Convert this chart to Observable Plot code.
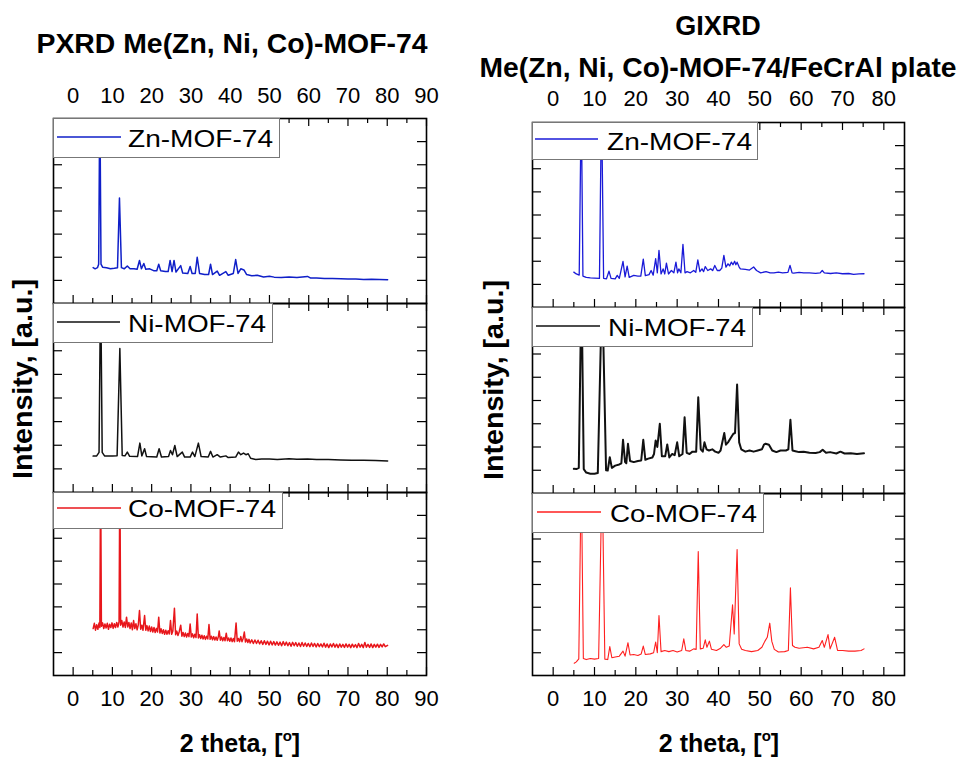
<!DOCTYPE html>
<html><head><meta charset="utf-8">
<script src="https://cdn.jsdelivr.net/npm/d3@7"></script>
<script src="https://cdn.jsdelivr.net/npm/@observablehq/plot@0.6"></script>
<style>
body{margin:0;background:#fff;}
#wrap{position:relative;width:960px;height:759px;overflow:hidden;background:#fff;}
#wrap .panel{position:absolute;}
#overlay{position:absolute;left:0;top:0;pointer-events:none;}
</style></head><body><div id="wrap"></div>
<script>
const FONT = '"Liberation Sans", Arial, Helvetica, sans-serif';

// ---- labels & ticks ----
const seriesNames = ["Zn-MOF-74", "Ni-MOF-74", "Co-MOF-74"];
const leftTitle = "PXRD Me(Zn, Ni, Co)-MOF-74";
const rightTitle = ["GIXRD", "Me(Zn, Ni, Co)-MOF-74/FeCrAl plate"];
const yLabel = "Intensity, [a.u.]";
const xLabel = "2 theta, [";
const leftXTickLabels = [0, 10, 20, 30, 40, 50, 60, 70, 80, 90];
const leftXMinorTicks = [5, 15, 25, 35, 45, 55, 65, 75, 85];
const rightXTickLabels = [0, 10, 20, 30, 40, 50, 60, 70, 80];
const rightXMinorTicks = [5, 15, 25, 35, 45, 55, 65, 75];
const yTicks = [1, 2, 3, 4, 5, 6, 7];

// ---- series: [2theta, intensity (a.u.)] ----
const pxrdZn = [[5.1,1.55],[5.6,1.50],[6.2,1.55],[6.5,1.7],[6.8,9],[7.1,1.7],[7.5,1.57],[8.5,1.55],[9.5,1.5],[10.5,1.52],[11.3,1.55],[11.8,4.56],[12.3,1.55],[13,1.5],[13.8,1.62],[14.5,1.5],[15.5,1.5],[16.3,1.48],[16.9,1.86],[17.4,1.5],[18.0,1.73],[18.5,1.48],[19.5,1.5],[20.5,1.42],[21.3,1.42],[21.8,1.70],[22.3,1.42],[23.5,1.38],[24.2,1.38],[24.7,1.86],[25.2,1.38],[25.7,1.86],[26.2,1.36],[27.4,1.64],[27.9,1.32],[29.2,1.3],[29.8,1.6],[30.3,1.3],[31.1,1.3],[31.6,2.0],[32.2,1.3],[33.5,1.25],[34.5,1.25],[35.0,1.70],[35.5,1.25],[36.7,1.4],[37.3,1.22],[38.9,1.38],[39.5,1.22],[40.8,1.3],[41.4,1.9],[42,1.3],[42.7,1.5],[43.5,1.45],[44.2,1.25],[45.5,1.2],[46.9,1.22],[48.5,1.15],[50,1.18],[51.2,1.14],[53,1.12],[55,1.15],[57,1.12],[59.7,1.17],[60.5,1.1],[62,1.1],[64,1.08],[66,1.08],[68.2,1.07],[70,1.06],[72,1.06],[74,1.04],[76,1.05],[78,1.04],[80.1,1.03]];

const pxrdNi = [[5.1,1.54],[6.0,1.55],[6.6,1.7],[7.0,9],[7.4,1.7],[8,1.55],[9,1.54],[10,1.54],[11.2,1.56],[11.9,6.09],[12.5,1.57],[13.2,1.55],[13.8,1.71],[14.4,1.53],[16.4,1.52],[17.0,2.09],[17.5,1.55],[18.2,1.85],[18.7,1.52],[21.3,1.5],[21.9,1.85],[22.5,1.5],[24.3,1.52],[24.8,1.78],[25.3,1.6],[25.9,1.99],[26.5,1.52],[27.8,1.71],[28.4,1.5],[29.8,1.5],[30.4,1.71],[31.0,1.52],[31.9,2.09],[32.6,1.52],[34.4,1.5],[35.0,1.74],[35.6,1.5],[36.7,1.6],[37.5,1.5],[38.9,1.55],[39.5,1.48],[41.4,1.5],[42.1,1.71],[42.7,1.6],[43.4,1.67],[44,1.6],[44.6,1.64],[45.2,1.45],[46.5,1.4],[48,1.42],[50,1.42],[52,1.4],[55,1.43],[57,1.41],[59.7,1.42],[62,1.4],[65,1.4],[68.2,1.38],[71,1.37],[74,1.36],[77,1.35],[80.1,1.33]];

const pxrdCo = [[5.1,2.05],[5.4,2.28],[5.7,1.98],[6.0,2.22],[6.3,2.02],[6.6,2.3],[6.8,2.1],[7.0,9],[7.2,2.15],[7.5,2.3],[7.8,2.05],[8.1,2.25],[8.4,2.08],[8.7,2.28],[9.0,2.02],[9.3,2.24],[9.6,2.1],[9.9,2.3],[10.2,2.06],[10.5,2.26],[10.8,2.1],[11.1,2.32],[11.4,2.12],[11.7,2.35],[11.9,9],[12.1,2.2],[12.4,2.4],[12.7,2.12],[13.0,2.34],[13.3,2.1],[13.6,2.55],[13.9,2.12],[14.2,2.32],[14.5,2.05],[14.8,2.3],[15.1,2.0],[15.4,2.4],[15.7,2.05],[16.0,2.26],[16.3,2.0],[16.6,2.22],[16.9,2.84],[17.2,2.02],[17.5,2.2],[17.8,1.98],[18.2,2.62],[18.5,1.98],[18.8,2.18],[19.1,1.95],[19.4,2.16],[19.7,1.92],[20.0,2.12],[20.3,1.9],[20.6,2.1],[20.9,1.88],[21.2,2.06],[21.5,1.9],[21.8,2.55],[22.1,1.86],[22.4,2.04],[22.7,1.84],[23.0,2.0],[23.3,1.8],[23.6,1.98],[23.9,1.8],[24.2,1.96],[24.5,1.82],[24.8,2.4],[25.1,1.8],[25.4,1.95],[25.8,2.94],[26.1,1.78],[26.4,1.94],[26.7,1.75],[27.0,1.9],[27.4,2.2],[27.7,1.72],[28.0,1.88],[28.3,1.7],[28.6,1.86],[28.9,1.68],[29.2,1.84],[29.5,1.7],[29.8,2.25],[30.1,1.68],[30.4,1.82],[30.7,1.65],[31.0,1.8],[31.3,1.66],[31.6,2.69],[31.9,1.64],[32.2,1.78],[32.5,1.62],[32.8,1.76],[33.1,1.6],[33.4,1.74],[33.7,1.58],[34.0,1.72],[34.3,1.6],[34.6,2.23],[34.9,1.58],[35.2,1.72],[35.5,1.56],[35.8,1.7],[36.1,1.55],[36.4,1.68],[36.7,1.54],[37.0,1.7],[37.2,1.95],[37.5,1.54],[37.8,1.68],[38.1,1.52],[38.4,1.66],[38.7,1.52],[39.0,1.85],[39.3,1.52],[39.6,1.64],[39.9,1.5],[40.2,1.64],[40.5,1.48],[40.8,1.62],[41.1,1.48],[41.5,2.29],[41.8,1.5],[42.1,1.62],[42.4,1.48],[42.7,1.7],[43.0,1.48],[43.3,1.62],[43.6,1.9],[43.9,1.46],[44.2,1.6],[44.5,1.44],[44.8,1.58],[45.1,1.42],[45.5,1.56],[45.9,1.4],[46.3,1.55],[46.7,1.4],[47.1,1.54],[47.5,1.38],[47.9,1.52],[48.3,1.36],[48.7,1.52],[49.1,1.36],[49.5,1.5],[49.9,1.34],[50.3,1.5],[50.7,1.34],[51.1,1.48],[51.5,1.33],[51.9,1.47],[52.3,1.32],[52.7,1.46],[53.1,1.3],[53.5,1.48],[53.9,1.32],[54.3,1.46],[54.7,1.3],[55.1,1.44],[55.5,1.28],[55.9,1.45],[56.3,1.3],[56.7,1.44],[57.1,1.28],[57.5,1.42],[57.9,1.27],[58.3,1.44],[58.7,1.28],[59.1,1.42],[59.5,1.27],[59.9,1.4],[60.3,1.26],[60.7,1.42],[61.1,1.27],[61.5,1.4],[61.9,1.25],[62.3,1.4],[62.7,1.26],[63.1,1.38],[63.5,1.25],[63.9,1.41],[64.3,1.24],[64.7,1.38],[65.1,1.22],[65.5,1.38],[65.9,1.25],[66.3,1.4],[66.7,1.24],[67.1,1.37],[67.5,1.22],[67.9,1.38],[68.3,1.24],[68.7,1.36],[69.1,1.23],[69.5,1.38],[69.9,1.24],[70.3,1.36],[70.7,1.22],[71.1,1.37],[71.5,1.24],[71.9,1.35],[72.3,1.22],[72.7,1.4],[73.1,1.24],[73.5,1.36],[73.9,1.22],[74.3,1.44],[74.7,1.24],[75.1,1.36],[75.5,1.23],[75.9,1.38],[76.3,1.22],[76.7,1.36],[77.1,1.24],[77.5,1.37],[77.9,1.23],[78.3,1.36],[78.7,1.25],[79.1,1.38],[79.5,1.26],[80.1,1.32]];

const gixrdZn = [[5.0,1.53],[5.6,1.45],[6.3,1.4],[6.8,9],[7.2,1.36],[8,1.3],[9,1.28],[10,1.27],[11.2,1.26],[11.7,9],[12.2,1.26],[12.9,1.24],[13.5,1.57],[14,1.26],[15.0,1.24],[15.5,1.39],[16.0,1.26],[16.9,1.99],[17.4,1.32],[17.9,1.79],[18.4,1.3],[19.5,1.39],[20.5,1.36],[21.2,1.36],[21.8,2.09],[22.3,1.38],[23.2,1.42],[23.7,1.6],[24.2,1.4],[24.8,2.11],[25.2,1.5],[25.6,2.47],[26.1,1.45],[26.6,1.67],[27.0,1.45],[27.4,1.92],[27.9,1.45],[28.6,1.6],[29.2,1.5],[29.7,1.96],[30.1,1.5],[30.4,1.67],[30.9,1.5],[31.4,2.73],[31.9,1.5],[32.4,1.55],[33.2,1.5],[34.0,1.6],[34.5,1.52],[35.0,2.06],[35.5,1.55],[36.0,1.67],[36.4,1.55],[36.8,1.77],[37.4,1.6],[38.1,1.67],[38.6,1.6],[39.1,1.82],[39.7,1.6],[40.3,1.6],[40.8,1.7],[41.3,2.25],[41.8,1.75],[42.3,1.89],[42.7,1.8],[43.1,1.96],[43.5,1.85],[43.9,2.0],[44.2,1.85],[44.5,1.96],[45.0,1.75],[45.3,1.67],[46.5,1.65],[47.5,1.62],[48.5,1.75],[49.2,1.6],[50.2,1.5],[51.5,1.55],[52.5,1.5],[53.4,1.5],[54.5,1.53],[55.5,1.5],[56.8,1.52],[57.3,1.82],[57.8,1.5],[58.2,1.49],[59.5,1.52],[60.6,1.5],[62,1.5],[63.5,1.48],[64.6,1.5],[65.1,1.6],[65.6,1.5],[67.1,1.47],[68.5,1.5],[70,1.46],[71.5,1.47],[72.7,1.43],[74,1.45],[75.2,1.46]];

const gixrdNi = [[5.0,1.06],[5.6,1.05],[6.2,1.1],[6.85,9],[7.4,1.05],[8,0.9],[9,0.85],[10,0.85],[10.8,0.88],[11.85,9],[12.8,1.0],[13.2,0.99],[13.7,1.56],[14.2,1.1],[15,1.2],[16.0,1.25],[16.5,1.3],[16.9,2.31],[17.4,1.35],[17.7,1.3],[18.1,2.14],[18.6,1.4],[19.5,1.35],[20.5,1.4],[21.3,1.42],[21.8,2.31],[22.3,1.45],[23.0,1.5],[24.0,1.55],[24.4,1.7],[24.8,2.28],[25.2,2.0],[25.8,3.0],[26.3,1.6],[27.1,1.6],[27.6,2.11],[28.1,1.55],[28.8,1.7],[29.4,1.65],[30.0,2.2],[30.5,1.6],[31.3,1.7],[31.8,3.28],[32.3,1.75],[33.0,1.7],[33.7,1.8],[34.6,1.8],[35.1,4.14],[35.7,1.9],[36.2,1.8],[36.6,2.2],[37.1,1.9],[37.7,1.85],[38.5,1.9],[39.2,1.8],[40.0,1.75],[40.5,1.85],[41.4,2.6],[41.8,2.1],[42.3,2.2],[43.1,2.43],[43.6,2.57],[44.0,2.6],[44.5,4.69],[45.0,2.2],[45.5,1.9],[46.5,1.8],[47.5,1.85],[48.5,1.8],[49.5,1.85],[50.5,1.9],[51.0,2.1],[51.4,2.14],[52.2,2.1],[53.0,1.85],[54.0,1.78],[55.0,1.85],[56.3,1.85],[56.9,1.9],[57.4,3.17],[57.9,1.85],[58.6,1.82],[59.5,1.78],[60.6,1.8],[62.0,1.75],[63.5,1.74],[64.5,1.78],[65.2,1.88],[66,1.75],[67,1.78],[68.5,1.72],[69.5,1.8],[70.5,1.72],[72,1.73],[73.5,1.7],[75.2,1.73]];

const gixrdCo = [[5.1,0.54],[5.6,0.6],[6.2,0.73],[6.8,9],[7.3,0.75],[8,0.7],[9,0.75],[10,0.72],[11.0,0.75],[11.85,9],[12.5,0.72],[13.2,0.7],[13.7,1.27],[14.2,0.78],[15,0.81],[16,0.85],[16.9,1.07],[17.4,0.85],[18.1,1.44],[18.6,0.9],[19.5,0.92],[20.5,0.88],[21.3,0.95],[21.8,1.29],[22.3,0.92],[23.5,0.95],[24.3,1.0],[24.8,1.47],[25.2,1.0],[25.6,2.64],[26.1,1.05],[27.0,1.1],[28.0,1.05],[29.0,1.1],[30.0,1.03],[31.1,1.1],[31.6,1.61],[32.1,1.1],[33.0,1.07],[34.0,1.17],[34.6,1.15],[35.1,5.45],[35.6,1.17],[36.3,1.2],[36.8,1.57],[37.2,1.24],[37.8,1.51],[38.3,1.15],[39.5,1.1],[40.5,1.2],[41.3,1.36],[41.9,1.24],[42.6,1.3],[43.4,3.11],[43.8,1.83],[44.5,5.54],[45.0,1.39],[45.6,1.15],[46.5,1.1],[48,1.05],[49.5,1.1],[50.5,1.24],[51.2,1.5],[51.8,1.68],[52.4,2.3],[52.9,1.5],[53.5,1.15],[54.5,1.03],[56.0,1.05],[56.9,1.1],[57.4,3.85],[57.9,1.32],[58.5,1.24],[59.5,1.2],[61.5,1.24],[63,1.17],[64.3,1.24],[65.1,1.54],[65.6,1.24],[66.5,1.8],[67.0,1.17],[68.1,1.68],[68.8,1.1],[70,1.1],[71.5,1.07],[73,1.07],[74.5,1.1],[75.2,1.17]];

const toRows = pairs => pairs.map(([x, y]) => ({x, y}));

const columns = [
  {left: 53, width: 373, xDomain: [-5, 90], major: leftXTickLabels, minor: leftXMinorTicks, topPad: 16,
   rows: [
     {top: 118, bottom: 303, data: pxrdZn, color: "#0f1fc8", sw: 1.5, name: seriesNames[0],
      box: [53, 118, 279, 157], sample: [57, 121, 137], text: [128, 146.5, 145]},
     {top: 303, bottom: 492, data: pxrdNi, color: "#111111", sw: 1.5, name: seriesNames[1],
      box: [53, 303, 272, 342], sample: [57, 120, 322], text: [128, 331.5, 138]},
     {top: 492, bottom: 675, data: pxrdCo, color: "#e8161b", sw: 1.5, name: seriesNames[2],
      box: [53, 492, 282, 528], sample: [57, 121, 508], text: [128, 516.5, 148]}
   ]},
  {left: 532, width: 372, xDomain: [-5, 85], major: rightXTickLabels, minor: rightXMinorTicks, topPad: 17,
   rows: [
     {top: 122, bottom: 307, data: gixrdZn, color: "#1a1ad8", sw: 1.3, name: seriesNames[0],
      box: [532, 122, 757, 159], sample: [535, 598, 139], text: [607, 149.5, 145]},
     {top: 307, bottom: 493, data: gixrdNi, color: "#111111", sw: 2.0, name: seriesNames[1],
      box: [532, 307, 752, 346], sample: [536, 600, 326], text: [608, 335.5, 138]},
     {top: 493, bottom: 675, data: gixrdCo, color: "#ff1f1f", sw: 1.1, name: seriesNames[2],
      box: [532, 493, 763, 532], sample: [537, 601, 512], text: [610, 521.5, 147]}
   ]}
];

const wrap = document.getElementById("wrap");

columns.forEach(col => {
  const W = col.width;
  col.rows.forEach((row, i) => {
    const H = row.bottom - row.top;
    const isTop = i === 0, isBottom = i === col.rows.length - 1;
    const mt = isTop ? 36 : 2, mb = isBottom ? 40 : 2;
    const chart = Plot.plot({
      width: W + 4, height: H + mt + mb,
      marginLeft: 2, marginRight: 2, marginTop: mt, marginBottom: mb,
      x: {domain: col.xDomain, axis: null},
      y: {domain: [0, 8], axis: null},
      style: {fontFamily: FONT, overflow: "visible", background: "transparent", color: "#000"},
      marks: [
        Plot.line(toRows(row.data), {x: "x", y: "y", stroke: row.color, strokeWidth: row.sw, strokeLinejoin: "round", clip: true}),
        Plot.tickX(col.major, {x: d => d, insetTop: H - 8, stroke: "#000", strokeWidth: 1.2}),
        Plot.tickX(col.major, {x: d => d, insetBottom: H - 8, stroke: "#000", strokeWidth: 1.2}),
        Plot.tickX(col.minor, {x: d => d, insetTop: H - 5, stroke: "#000", strokeWidth: 1.2}),
        Plot.tickX(col.minor, {x: d => d, insetBottom: H - 5, stroke: "#000", strokeWidth: 1.2}),
        Plot.tickY(yTicks, {y: d => d, insetRight: W - 9, stroke: "#000", strokeWidth: 1.2}),
        Plot.tickY(yTicks, {y: d => d, insetLeft: W - 9, stroke: "#000", strokeWidth: 1.2}),
        Plot.frame({stroke: "#000", strokeWidth: 1.6}),
        isTop ? Plot.axisX({anchor: "top", ticks: col.major, tickSize: 0, tickPadding: col.topPad, fontSize: 22, label: null, fill: "#000"}) : null,
        isBottom ? Plot.axisX({anchor: "bottom", ticks: col.major, tickSize: 0, tickPadding: 15, fontSize: 22, label: null, fill: "#000"}) : null
      ]
    });
    const holder = document.createElement("div");
    holder.className = "panel";
    holder.style.left = (col.left - 2) + "px";
    holder.style.top = (row.top - mt) + "px";
    holder.appendChild(chart);
    wrap.appendChild(holder);
  });
});

// ---- overlay: titles, axis titles, legends ----
const svg = d3.create("svg").attr("id", "overlay").attr("width", 960).attr("height", 759)
  .style("font-family", FONT);

columns.forEach(col => col.rows.forEach(row => {
  const [x0, y0, x1, y1] = row.box;
  svg.append("rect").attr("x", x0 + 0.5).attr("y", y0 + 0.5).attr("width", x1 - x0).attr("height", y1 - y0)
    .attr("fill", "#fff").attr("stroke", "#777").attr("stroke-width", 1);
  svg.append("line").attr("x1", row.sample[0]).attr("x2", row.sample[1]).attr("y1", row.sample[2]).attr("y2", row.sample[2])
    .attr("stroke", row.color).attr("stroke-width", 1.4);
  svg.append("text").attr("x", row.text[0]).attr("y", row.text[1]).attr("font-size", 24)
    .attr("textLength", row.text[2]).attr("lengthAdjust", "spacingAndGlyphs").attr("fill", "#000").text(row.name);
}));

svg.append("text").attr("x", 232).attr("y", 53).attr("text-anchor", "middle").attr("font-size", 27).attr("font-weight", "bold")
  .attr("textLength", 391).attr("lengthAdjust", "spacingAndGlyphs").text(leftTitle);
svg.append("text").attr("x", 718).attr("y", 35).attr("text-anchor", "middle").attr("font-size", 27).attr("font-weight", "bold")
  .text(rightTitle[0]);
svg.append("text").attr("x", 718).attr("y", 77).attr("text-anchor", "middle").attr("font-size", 27).attr("font-weight", "bold")
  .attr("textLength", 477).attr("lengthAdjust", "spacingAndGlyphs").text(rightTitle[1]);

[[32, 379], [503, 380]].forEach(([x, y]) => {
  svg.append("text").attr("transform", `translate(${x},${y}) rotate(-90)`).attr("text-anchor", "middle")
    .attr("font-size", 28).attr("font-weight", "bold").attr("textLength", 200).attr("lengthAdjust", "spacingAndGlyphs")
    .text(yLabel);
});

[240, 719].forEach(cx => {
  const t = svg.append("text").attr("x", cx).attr("y", 752).attr("text-anchor", "middle")
    .attr("font-size", 25).attr("font-weight", "bold");
  t.append("tspan").text(xLabel);
  t.append("tspan").attr("font-size", 15).attr("dy", -11).text("o");
  t.append("tspan").attr("dy", 11).text("]");
});

wrap.appendChild(svg.node());
</script></body></html>
